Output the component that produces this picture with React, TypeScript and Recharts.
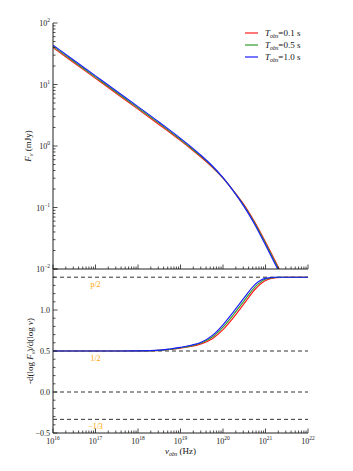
import React from 'react';
import { LineChart, Line, XAxis, YAxis, ReferenceLine, ReferenceDot, Legend } from 'recharts';

// log10 of observed frequency (Hz)
const logNu = [16, 16.5, 17, 17.5, 18, 18.5, 18.75, 19, 19.25, 19.5, 19.75, 20, 20.25, 20.5, 20.75, 21, 21.25, 21.5, 22];
// flux density F_nu (mJy)
const fluxRed = [39.81, 22.39, 12.59, 7.08, 3.98, 2.22, 1.656, 1.222, 0.893, 0.643, 0.45, 0.3, 0.1854, 0.1096, 0.0575, 0.0275, 0.01259, 0.00562, null];
const fluxGreen = [41.69, 23.44, 13.18, 7.41, 4.17, 2.33, 1.73, 1.274, 0.929, 0.664, 0.461, 0.303, 0.1837, 0.1059, 0.055, 0.026, 0.01189, 0.00531, null];
const fluxBlue = [43.65, 24.55, 13.8, 7.76, 4.37, 2.44, 1.81, 1.33, 0.966, 0.687, 0.473, 0.306, 0.1824, 0.1023, 0.0525, 0.0245, 0.01122, 0.00501, null];
// spectral index -dlogF/dlognu
const indexRed = [0.5, 0.5, 0.5, 0.5, 0.501, 0.507, 0.518, 0.535, 0.555, 0.59, 0.65, 0.76, 0.91, 1.08, 1.25, 1.36, 1.395, 1.4, 1.4];
const indexGreen = [0.5, 0.5, 0.5, 0.5, 0.501, 0.508, 0.52, 0.54, 0.562, 0.6, 0.67, 0.79, 0.945, 1.115, 1.28, 1.375, 1.398, 1.4, 1.4];
const indexBlue = [0.5, 0.5, 0.5, 0.5, 0.502, 0.51, 0.525, 0.545, 0.57, 0.61, 0.69, 0.82, 0.98, 1.15, 1.31, 1.385, 1.4, 1.4, 1.4];

const seriesLabels = ['0.1', '0.5', '1.0'];
const seriesColors = ['#ff1a1a', '#2e9a2e', '#1a1aff'];

const xExps = [16, 17, 18, 19, 20, 21, 22];
const yTopExps = [-2, -1, 0, 1, 2];
const refLevels = [1.4, 0.5, 0, -1 / 3];
const refLabelLevels = [1.4, 0.5, -1 / 3];
const refLabels = ['p/2', '1/2', '\u22121/3'];
const refLabelAt = 1e17;

const minorMult = [1, 2, 3, 4, 5, 6, 7, 8, 9];
const logTicks = (exps: number[]) => {
  const out: number[] = [];
  exps.forEach((e, i) => {
    if (i === exps.length - 1) { out.push(Math.pow(10, e)); return; }
    minorMult.forEach((m) => out.push(m * Math.pow(10, e)));
  });
  return out;
};
const xTicks = logTicks(xExps);
const yTopTicks = logTicks(yTopExps);
const yBotTicks: number[] = [];
for (let k = -5; k <= 15; k++) yBotTicks.push(k / 10);

const fluxData = logNu.map((l, i) => ({ nu: Math.pow(10, l), r: fluxRed[i], g: fluxGreen[i], b: fluxBlue[i] }));
const indexData = logNu.map((l, i) => ({ nu: Math.pow(10, l), r: indexRed[i], g: indexGreen[i], b: indexBlue[i] }));

const FONT = '"Liberation Serif", "DejaVu Serif", serif';
const AXIS = '#222';

const isDecade = (v: number) => { const l = Math.log10(v); return Math.abs(l - Math.round(l)) < 1e-6; };
const isHalf = (v: number) => Math.abs(v * 2 - Math.round(v * 2)) < 1e-6;

const pow10Label = (v: number) => {
  const e = Math.round(Math.log10(v));
  return [
    <tspan key="b">10</tspan>,
    <tspan key="e" dy={-4} fontSize={5.5}>{e < 0 ? '\u2212' + Math.abs(e) : String(e)}</tspan>,
  ];
};
const linLabel = (v: number) => (Math.abs(v - 1.5) < 1e-6 ? null : (v < 0 ? '\u2212' : '') + Math.abs(v).toFixed(1));

type Side = 'bottom' | 'top' | 'left' | 'right';
const makeTick = (side: Side, major: (v: number) => boolean, label?: (v: number) => any) => (props: any) => {
  const { x, y, payload } = props;
  const v = payload.value as number;
  const mj = major(v);
  const len = mj ? 4.5 : 2.5;
  let x2 = x, y2 = y;
  if (side === 'bottom') y2 = y - len;
  else if (side === 'top') y2 = y + len;
  else if (side === 'left') x2 = x + len;
  else x2 = x - len;
  const lab = label && mj ? label(v) : null;
  return (
    <g>
      <line x1={x} y1={y} x2={x2} y2={y2} stroke={AXIS} strokeWidth={0.8} />
      {lab != null && side === 'bottom' && (
        <text x={x} y={y + 11} textAnchor="middle" fontSize={8} fontFamily={FONT} fill="#222">{lab}</text>
      )}
      {lab != null && side === 'left' && (
        <text x={x - 3} y={y + 3} textAnchor="end" fontSize={8} fontFamily={FONT} fill="#222">{lab}</text>
      )}
    </g>
  );
};

const LegendBox = () => (
  <div style={{ fontFamily: FONT, fontSize: 9, color: '#111' }}>
    {seriesLabels.map((s, i) => (
      <div key={s} style={{ display: 'flex', alignItems: 'center', height: 12, whiteSpace: 'nowrap' }}>
        <svg width={13} height={4} style={{ marginRight: 7, flex: 'none', display: 'block' }}>
          <line x1={0} y1={2} x2={13} y2={2} stroke={seriesColors[i]} strokeWidth={1.2} />
        </svg>
        <span>
          <i>T</i>
          <sub style={{ fontSize: 6, verticalAlign: '-2px' }}><i>obs</i></sub>
          {'=' + s + ' s'}
        </span>
      </div>
    ))}
  </div>
);

const axisCommon = {
  axisLine: { stroke: AXIS, strokeWidth: 1 },
  tickLine: false,
  tickSize: 0,
  tickMargin: 0,
  interval: 0 as const,
  allowDataOverflow: true,
};

const W = 353;

export default function App() {
  const lines = ['r', 'g', 'b'];
  return (
    <div style={{ position: 'absolute', left: 0, top: 0, width: W, height: 471, background: '#fff' }}>
      <div style={{ position: 'absolute', left: 0, top: 0 }}>
        <LineChart width={W} height={280} data={fluxData} margin={{ top: 23, right: 45, left: 0, bottom: 0 }}>
          <XAxis
            dataKey="nu" type="number" scale="log" domain={[1e16, 1e22]} ticks={xTicks}
            orientation="bottom" height={11} {...axisCommon}
            tick={makeTick('bottom', isDecade)}
          />
          <XAxis
            xAxisId="top" dataKey="nu" type="number" scale="log" domain={[1e16, 1e22]} ticks={xTicks}
            orientation="top" height={0} {...axisCommon}
            tick={makeTick('top', isDecade)}
            label={(p: any) => {
              const vb = p.viewBox;
              return <text x={vb.x + vb.width / 2} y={vb.y - 3} textAnchor="middle" fontSize={9} fontFamily={FONT} fill="#111">PJR15Γ100</text>;
            }}
          />
          <YAxis
            type="number" scale="log" domain={[0.01, 100]} ticks={yTopTicks}
            orientation="left" width={53} {...axisCommon}
            tick={makeTick('left', isDecade, pow10Label)}
            label={(p: any) => {
              const vb = p.viewBox;
              const cx = vb.x + 31;
              const cy = vb.y + vb.height / 2;
              return (
                <text x={cx} y={cy} transform={`rotate(-90, ${cx}, ${cy})`} textAnchor="middle" fontSize={9} fontFamily={FONT} fill="#111">
                  <tspan fontStyle="italic">F</tspan>
                  <tspan fontStyle="italic" fontSize={6} dy={2}>ν</tspan>
                  <tspan dy={-2}> (mJy)</tspan>
                </text>
              );
            }}
          />
          <YAxis
            yAxisId="right" type="number" scale="log" domain={[0.01, 100]} ticks={yTopTicks}
            orientation="right" width={0} {...axisCommon}
            tick={makeTick('right', isDecade)}
          />
          <Legend
            layout="horizontal" verticalAlign="middle" align="center"
            wrapperStyle={{ position: 'absolute', top: 27, left: 245, width: 'auto', height: 'auto' }}
            content={() => <LegendBox />}
          />
          {lines.map((k, i) => (
            <Line key={k} dataKey={k} type="monotone" stroke={seriesColors[i]} strokeWidth={1.15} dot={false} isAnimationActive={false} />
          ))}
        </LineChart>
      </div>
      <div style={{ position: 'absolute', left: 0, top: 0 }}>
        <LineChart width={W} height={471} data={indexData} margin={{ top: 269, right: 45, left: 0, bottom: 0 }}>
          <XAxis
            dataKey="nu" type="number" scale="log" domain={[1e16, 1e22]} ticks={xTicks}
            orientation="bottom" height={38} {...axisCommon}
            tick={makeTick('bottom', isDecade, pow10Label)}
            label={(p: any) => {
              const vb = p.viewBox;
              return (
                <text x={vb.x + vb.width / 2} y={vb.y + 21} textAnchor="middle" fontSize={9} fontFamily={FONT} fill="#111">
                  <tspan fontStyle="italic">ν</tspan>
                  <tspan fontStyle="italic" fontSize={6} dy={2}>obs</tspan>
                  <tspan dy={-2}> (Hz)</tspan>
                </text>
              );
            }}
          />
          <XAxis
            xAxisId="top" dataKey="nu" type="number" scale="log" domain={[1e16, 1e22]} ticks={xTicks}
            orientation="top" height={0} {...axisCommon}
            tick={makeTick('top', isDecade)}
          />
          <YAxis
            type="number" domain={[-0.5, 1.5]} ticks={yBotTicks}
            orientation="left" width={53} {...axisCommon}
            tick={makeTick('left', isHalf, linLabel)}
            label={(p: any) => {
              const vb = p.viewBox;
              const cx = vb.x + 33;
              const cy = vb.y + vb.height / 2;
              return (
                <text x={cx} y={cy} transform={`rotate(-90, ${cx}, ${cy})`} textAnchor="middle" fontSize={9} fontFamily={FONT} fill="#111">
                  <tspan>-d(log </tspan>
                  <tspan fontStyle="italic">F</tspan>
                  <tspan fontStyle="italic" fontSize={6} dy={2}>ν</tspan>
                  <tspan dy={-2}>)/d(log </tspan>
                  <tspan fontStyle="italic">ν</tspan>
                  <tspan>)</tspan>
                </text>
              );
            }}
          />
          <YAxis
            yAxisId="right" type="number" domain={[-0.5, 1.5]} ticks={yBotTicks}
            orientation="right" width={0} {...axisCommon}
            tick={makeTick('right', isHalf)}
          />
          {refLevels.map((lv) => (
            <ReferenceLine key={'rl' + lv} y={lv} stroke="#333" strokeWidth={1} strokeDasharray="4 3" />
          ))}
          {refLabelLevels.map((lv, i) => (
            <ReferenceDot
              key={'rd' + lv} x={refLabelAt} y={lv} r={0} fill="none" stroke="none"
              label={(p: any) => {
                const vb = p.viewBox;
                return (
                  <text x={vb.x + (vb.width || 0) / 2} y={vb.y + 10} textAnchor="middle" fontSize={8} fontFamily={FONT} fill="#ffa500">
                    {refLabels[i]}
                  </text>
                );
              }}
            />
          ))}
          {lines.map((k, i) => (
            <Line key={k} dataKey={k} type="monotone" stroke={seriesColors[i]} strokeWidth={1.15} dot={false} isAnimationActive={false} />
          ))}
        </LineChart>
      </div>
    </div>
  );
}
